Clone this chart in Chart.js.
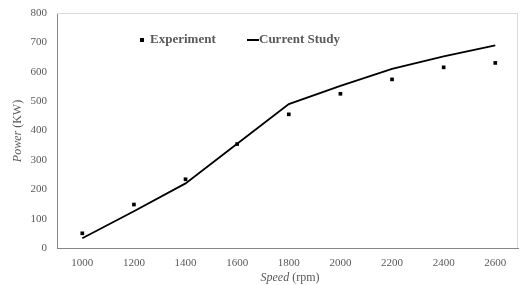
<!DOCTYPE html>
<html lang="en">
<head>
<meta charset="UTF-8">
<title>Power vs Speed</title>
<script src="https://cdn.jsdelivr.net/npm/chart.js@4.4.1/dist/chart.umd.min.js"></script>
<style>
  body { margin: 0; background: #fff; }
  #wrap { width: 522px; height: 285px; }
</style>
</head>
<body>
<div id="wrap"><canvas id="myChart" width="522" height="285"></canvas></div>
<script>
// speed in rpm
const speeds = [1000, 1200, 1400, 1600, 1800, 2000, 2200, 2400, 2600];
// power in KW
const experiment = [50, 148, 234, 354, 455, 525, 574, 615, 630];
const currentStudy = [33, 125, 220, 355, 490, 552, 610, 652, 690];
const yTicks = [0, 100, 200, 300, 400, 500, 600, 700, 800];

const grey = '#595959';
const serif = '"Liberation Serif", "Times New Roman", serif';

// draws plot box, legend and the mixed style axis titles
const decorations = {
  id: 'decorations',
  afterDraw(chart) {
    const ctx = chart.ctx;
    const a = chart.chartArea;
    ctx.save();
    // box top + right
    ctx.strokeStyle = '#d9d9d9';
    ctx.lineWidth = 1;
    ctx.beginPath();
    ctx.moveTo(a.left, a.top + 0.5);
    ctx.lineTo(a.right - 0.5, a.top + 0.5);
    ctx.lineTo(a.right - 0.5, a.bottom);
    ctx.stroke();

    // legend
    ctx.fillStyle = '#000';
    ctx.fillRect(140, 38, 4, 4);
    ctx.font = 'bold 13px ' + serif;
    ctx.fillStyle = grey;
    ctx.textBaseline = 'middle';
    ctx.textAlign = 'left';
    ctx.fillText('Experiment', 150, 40);
    ctx.strokeStyle = '#000';
    ctx.lineWidth = 2;
    ctx.beginPath();
    ctx.moveTo(247, 40);
    ctx.lineTo(259, 40);
    ctx.stroke();
    ctx.fillText('Current Study', 259, 40);

    // x title
    ctx.font = 'italic 12px ' + serif;
    let w1 = ctx.measureText('Speed').width;
    ctx.font = '12px ' + serif;
    let w2 = ctx.measureText(' (rpm)').width;
    let x0 = 290 - (w1 + w2) / 2;
    ctx.font = 'italic 12px ' + serif;
    ctx.fillText('Speed', x0, 278);
    ctx.font = '12px ' + serif;
    ctx.fillText(' (rpm)', x0 + w1, 278);

    // y title, rotated
    ctx.translate(18, 131);
    ctx.rotate(-Math.PI / 2);
    ctx.font = 'italic 12px ' + serif;
    w1 = ctx.measureText('Power').width;
    ctx.font = '12px ' + serif;
    w2 = ctx.measureText(' (KW)').width;
    x0 = -(w1 + w2) / 2;
    ctx.font = 'italic 12px ' + serif;
    ctx.fillText('Power', x0, 0);
    ctx.font = '12px ' + serif;
    ctx.fillText(' (KW)', x0 + w1, 0);
    ctx.restore();
  }
};

const ctx = document.getElementById('myChart').getContext('2d');
const myChart = new Chart(ctx, {
  type: 'scatter',
  data: {
    datasets: [
      {
        label: 'Experiment',
        data: speeds.map((s, i) => ({ x: s, y: experiment[i] })),
        pointStyle: 'rect',
        pointRadius: 2.6,
        backgroundColor: '#000',
        borderColor: '#000',
        borderWidth: 0,
        showLine: false
      },
      {
        label: 'Current Study',
        data: speeds.map((s, i) => ({ x: s, y: currentStudy[i] })),
        showLine: true,
        pointRadius: 0,
        borderColor: '#000',
        borderWidth: 1.8,
        tension: 0
      }
    ]
  },
  options: {
    responsive: false,
    animation: false,
    layout: { padding: { top: 13, right: 1, left: 0, bottom: 0 } },
    plugins: {
      legend: { display: false },
      tooltip: { enabled: false }
    },
    scales: {
      x: {
        type: 'linear',
        min: 902,
        max: 2688,
        grid: { display: false },
        border: { display: true, color: '#868686', width: 1 },
        afterBuildTicks: (scale) => { scale.ticks = speeds.map(v => ({ value: v })); },
        afterFit: (scale) => { scale.height = 37; },
        ticks: {
          color: grey,
          font: { family: serif, size: 11 },
          padding: 1,
          maxRotation: 0,
          autoSkip: false,
          callback: (v) => String(v)
        }
      },
      y: {
        min: 0,
        max: 800,
        grid: { display: false },
        border: { display: true, color: '#868686', width: 1 },
        afterBuildTicks: (scale) => { scale.ticks = yTicks.map(v => ({ value: v })); },
        afterFit: (scale) => { scale.width = 57; },
        ticks: {
          color: grey,
          font: { family: serif, size: 11 },
          padding: 2
        }
      }
    }
  },
  plugins: [decorations]
});
</script>
</body>
</html>
